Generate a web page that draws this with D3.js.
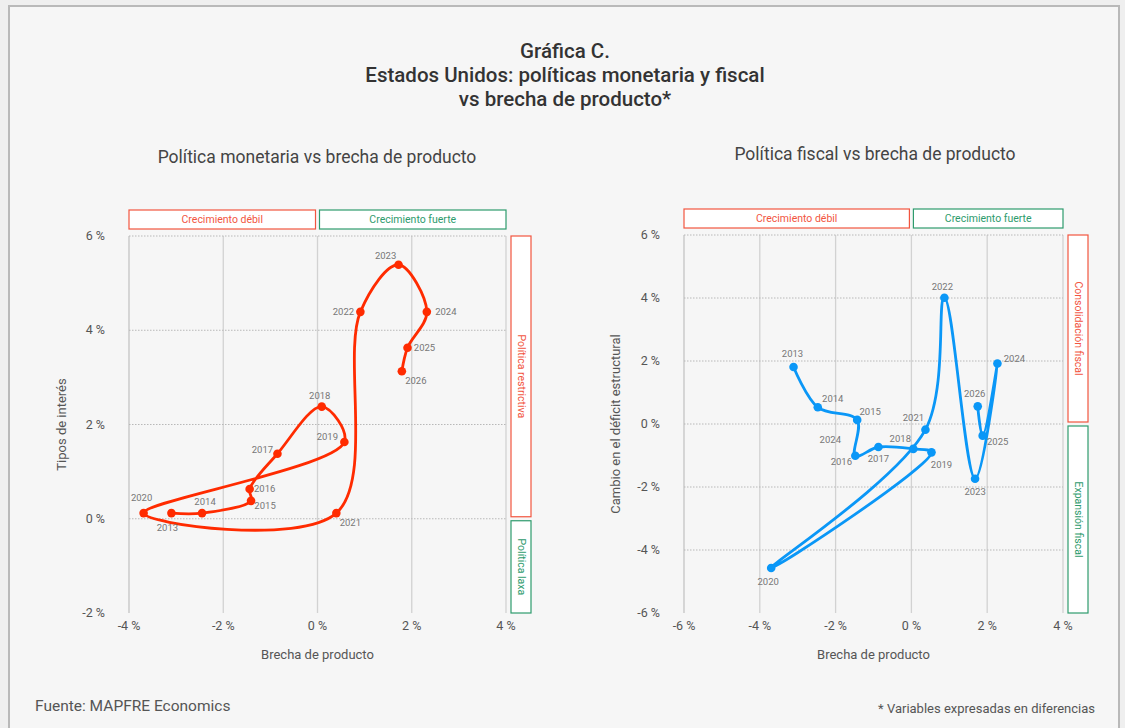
<!DOCTYPE html>
<html>
<head>
<meta charset="utf-8">
<title>Gráfica C</title>
<script src="https://cdn.jsdelivr.net/npm/d3@7"></script>
<style>
    body { margin: 0; background: #efefef; font-family: Roboto, "Noto Sans", sans-serif; }
    .title { font-size: 20.5px; fill: #333; font-weight: 500; }
    .sub { font-size: 17.5px; fill: #444; }
    .tick-lbl { font-size: 12.5px; fill: #555; }
    .ax-title { font-size: 13px; fill: #555; }
    .pt-lbl { font-size: 9.5px; fill: #777; }
    .box-lbl { font-size: 10.5px; }
</style>
</head>
<body>
<div id="chart"></div>
<script>
    // years shared by both panels
    var years = [2013, 2014, 2015, 2016, 2017, 2018, 2019, 2020, 2021, 2022, 2023, 2024, 2025, 2026];

    // left: monetary policy vs output gap (%)
    var gapMon  = [-3.10, -2.45, -1.41, -1.44, -0.85, 0.09, 0.57, -3.69, 0.40, 0.91, 1.72, 2.32, 1.91, 1.79];
    var rates   = [ 0.12,  0.12,  0.38,  0.63,  1.38, 2.38, 1.63,  0.12, 0.12, 4.39, 5.39, 4.39, 3.63, 3.13];

    // right: fiscal policy vs output gap (%)
    var gapFis  = [-3.11, -2.47, -1.43, -1.48, -0.87, 0.05, 0.53, -3.70, 0.37, 0.87, 1.68, 2.27, 1.88, 1.75];
    var deficit = [ 1.81,  0.53,  0.13, -1.01, -0.73, -0.79, -0.90, -4.57, -0.18, 4.01, -1.74, 1.92, -0.37, 0.56];

    var monXTicks = [-4, -2, 0, 2, 4];
    var monYTicks = [-2, 0, 2, 4, 6];
    var fisXTicks = [-6, -4, -2, 0, 2, 4];
    var fisYTicks = [-6, -4, -2, 0, 2, 4, 6];

    var W = 1125, H = 728;
    var svg = d3.select("#chart").append("svg").attr("width", W).attr("height", H);

    // frame
    svg.append("rect").attr("x", 9).attr("y", 6).attr("width", 1110).attr("height", 740)
        .attr("fill", "#f6f6f6").attr("stroke", "#b9b9b9").attr("stroke-width", 2);

    var tl = svg.append("text").attr("class", "title").attr("text-anchor", "middle");
    tl.append("tspan").attr("x", 565).attr("y", 58).text("Gráfica C.");
    tl.append("tspan").attr("x", 565).attr("y", 82).text("Estados Unidos: políticas monetaria y fiscal");
    tl.append("tspan").attr("x", 565).attr("y", 106).text("vs brecha de producto*");

    svg.append("text").attr("x", 35).attr("y", 711).attr("font-size", 15.5).attr("fill", "#555")
        .text("Fuente: MAPFRE Economics");
    svg.append("text").attr("x", 1095).attr("y", 713).attr("text-anchor", "end")
        .attr("font-size", 13).attr("fill", "#555").text("* Variables expresadas en diferencias");

    var RED = "#f2553f", GREEN = "#2e9b6d";

    function panel(o) {
        var x = d3.scaleLinear().domain(d3.extent(o.xTicks)).range([o.x0, o.x1]);
        var y = d3.scaleLinear().domain(d3.extent(o.yTicks)).range([o.y1, o.y0]);
        var g = svg.append("g");

        g.append("text").attr("class", "sub").attr("text-anchor", "middle")
            .attr("x", o.subX).attr("y", o.subY).text(o.sub);

        // vertical grid
        g.selectAll(".vg").data(o.xTicks).enter().append("line")
            .attr("x1", d => x(d)).attr("x2", d => x(d)).attr("y1", y.range()[1]).attr("y2", y.range()[0])
            .attr("stroke", (d, i) => i == 0 ? "#c4c4c4" : "#d2d2d2").attr("stroke-width", 1.3);
        // horizontal grid (dotted)
        g.selectAll(".hg").data(o.yTicks.slice(1)).enter().append("line")
            .attr("x1", o.x0).attr("x2", o.x1).attr("y1", d => y(d)).attr("y2", d => y(d))
            .attr("stroke", "#b8b8b8").attr("stroke-dasharray", "1.5,1.5");

        g.selectAll(".xt").data(o.xTicks).enter().append("text").attr("class", "tick-lbl")
            .attr("text-anchor", "middle").attr("x", d => x(d)).attr("y", o.y1 + 17).text(d => d + " %");
        g.selectAll(".yt").data(o.yTicks).enter().append("text").attr("class", "tick-lbl")
            .attr("text-anchor", "end").attr("x", o.x0 - 24).attr("y", d => y(d) + 4).text(d => d + " %");

        g.append("text").attr("class", "ax-title").attr("text-anchor", "middle")
            .attr("x", (o.x0 + o.x1) / 2).attr("y", o.y1 + 46).text("Brecha de producto");
        g.append("text").attr("class", "ax-title").attr("text-anchor", "middle")
            .attr("transform", "translate(" + o.yTitleX + "," + y((o.yTicks[0] + o.yTicks[o.yTicks.length - 1]) / 2) + ") rotate(-90)")
            .text(o.yTitle);

        // regime boxes along top (growth) and right (policy)
        var top = [[x.domain()[0], 0, "Crecimiento débil", RED], [0, x.domain()[1], "Crecimiento fuerte", GREEN]];
        top.forEach(function(b, i) {
            var bx0 = x(b[0]) + (i ? 2 : 0), bx1 = x(b[1]) - (i ? 0 : 2);
            g.append("rect").attr("x", bx0).attr("y", y.range()[1] - 26).attr("width", bx1 - bx0).attr("height", 19)
                .attr("fill", "#fff").attr("stroke", b[3]).attr("stroke-width", 1.2);
            g.append("text").attr("class", "box-lbl").attr("fill", b[3]).attr("text-anchor", "middle")
                .attr("x", (bx0 + bx1) / 2).attr("y", y.range()[1] - 13).text(b[2]);
        });
        var side = [[y.domain()[1], 0, o.sideTop, RED], [0, y.domain()[0], o.sideBot, GREEN]];
        side.forEach(function(b, i) {
            var by0 = y(b[0]) + (i ? 2 : 0), by1 = y(b[1]) - (i ? 0 : 2);
            var bx = o.x1 + 5;
            g.append("rect").attr("x", bx).attr("y", by0).attr("width", 20).attr("height", by1 - by0)
                .attr("fill", "#fff").attr("stroke", b[3]).attr("stroke-width", 1.2);
            g.append("text").attr("class", "box-lbl").attr("fill", b[3]).attr("text-anchor", "middle")
                .attr("transform", "translate(" + (bx + 7) + "," + (by0 + by1) / 2 + ") rotate(90)")
                .text(b[2]);
        });

        var pts = years.map((yr, i) => ({ yr: yr, x: o.xs[i], y: o.ys[i] }));
        var line = d3.line().x(d => x(d.x)).y(d => y(d.y)).curve(d3.curveCatmullRom.alpha(0.5));
        g.append("path").datum(pts).attr("d", line).attr("fill", "none")
            .attr("stroke", o.color).attr("stroke-width", 2.8).attr("stroke-linejoin", "round");
        g.selectAll(".pt").data(pts).enter().append("circle")
            .attr("cx", d => x(d.x)).attr("cy", d => y(d.y)).attr("r", 4.3).attr("fill", o.color);
        g.selectAll(".pl").data(pts).enter().append("text").attr("class", "pt-lbl").attr("text-anchor", "middle")
            .attr("x", d => x(d.x) + o.lbl[d.yr][0]).attr("y", d => y(d.y) + o.lbl[d.yr][1] + 3).text(d => d.yr);
        (o.extra || []).forEach(function(e) {
            g.append("text").attr("class", "pt-lbl").attr("text-anchor", "middle")
                .attr("x", x(e.x)).attr("y", y(e.y) + 3).text(e.text);
        });
    }

    panel({
        x0: 129, x1: 506, y0: 236, y1: 613, subX: 317, subY: 163,
        sub: "Política monetaria vs brecha de producto",
        xTicks: monXTicks, yTicks: monYTicks, xs: gapMon, ys: rates, color: "#ff2b00",
        yTitle: "Tipos de interés", yTitleX: 66,
        sideTop: "Política restrictiva", sideBot: "Política laxa",
        lbl: {2013: [-4, 15], 2014: [3, -11], 2015: [14, 5], 2016: [15, 0], 2017: [-15, -4], 2018: [-2, -11],
              2019: [-17, -5], 2020: [-2, -15], 2021: [14, 10], 2022: [-17, 0], 2023: [-13, -9], 2024: [19, 0],
              2025: [17, 0], 2026: [14, 10]}
    });

    panel({
        x0: 684, x1: 1063, y0: 235, y1: 613, subX: 875, subY: 160,
        sub: "Política fiscal vs brecha de producto",
        xTicks: fisXTicks, yTicks: fisYTicks, xs: gapFis, ys: deficit, color: "#0a97f7",
        yTitle: "Cambio en el déficit estructural", yTitleX: 620,
        sideTop: "Consolidación fiscal", sideBot: "Expansión fiscal",
        lbl: {2013: [-1, -13], 2014: [15, -8], 2015: [13, -8], 2016: [-14, 6], 2017: [0, 12], 2018: [-13, -10],
              2019: [10, 13], 2020: [-3, 14], 2021: [-12, -12], 2022: [-2, -11], 2023: [0, 13], 2024: [17, -5],
              2025: [15, 6], 2026: [-3, -12]},
        extra: [{ x: -2.14, y: -0.5, text: "2024" }]
    });
</script>
</body>
</html>
